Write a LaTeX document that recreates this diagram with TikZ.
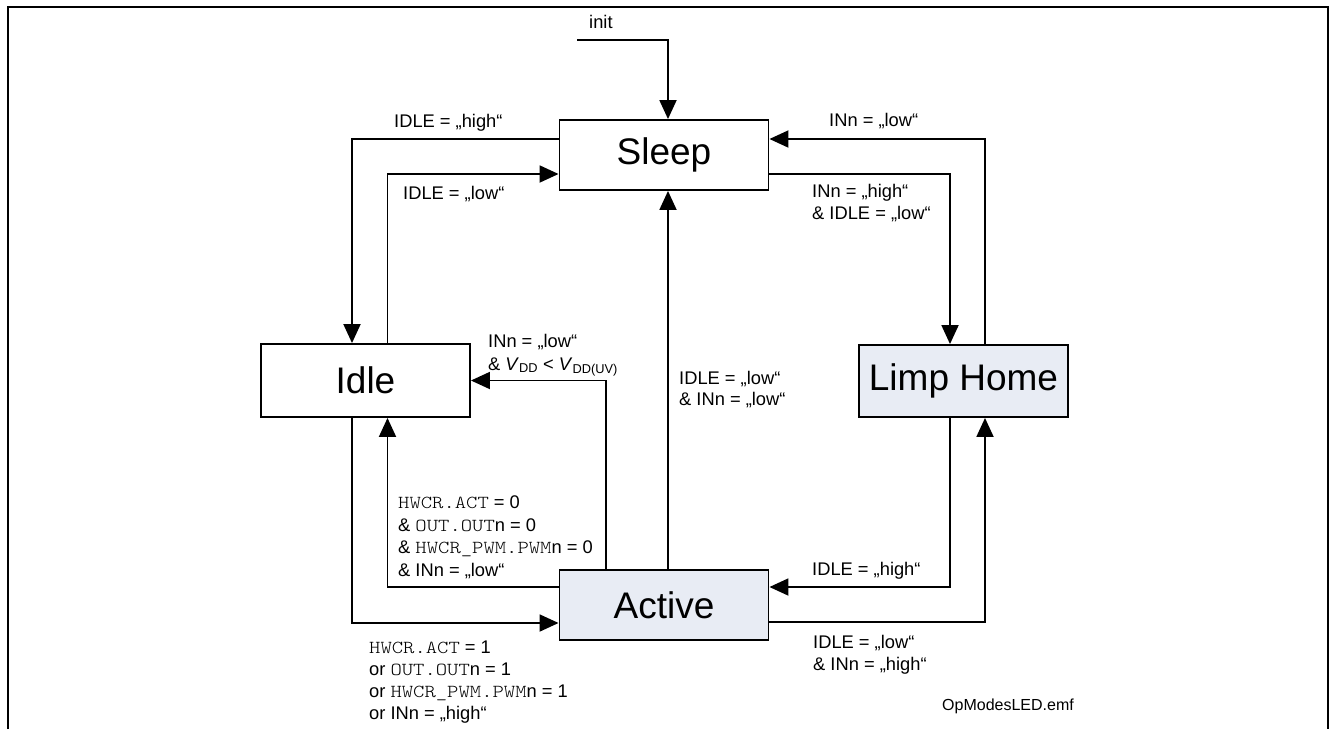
\documentclass[tikz,border=0pt]{standalone}
\usepackage{fontspec}
\setmainfont{Liberation Sans}
\setmonofont{Latin Modern Mono Light}[FakeStretch=1.18]
\usetikzlibrary{arrows.meta}
\definecolor{boxfill}{HTML}{E8ECF4}
\tikzset{
  state/.style={draw, line width=1.9pt, minimum width=209pt, minimum height=70pt, inner sep=0pt, font=\fontsize{37}{44}\selectfont},
  arr/.style={line width=1.9pt, -{Triangle[length=19pt,width=17pt]}},
  lbl/.style={anchor=base west, inner sep=0pt, font=\fontsize{18.3}{22}\selectfont},
}
\begin{document}
\begin{tikzpicture}[x=1pt,y=-1pt]
\useasboundingbox (0,0) rectangle (1333,729);
\draw[line width=1.9pt] (8,729) -- (8,7) -- (1328,7) -- (1328,729);

\node[state] (sleep) at (664,155) {Sleep};
\node[state, minimum height=73pt] (idle) at (365.5,380.5) {Idle};
\node[state, fill=boxfill, minimum height=72pt] (limp) at (963.5,381) {Limp Home};
\node[state, fill=boxfill] (active) at (664,605) {Active};

\coordinate (init) at (577,40);
\node[lbl] (initlbl) at (589,28) {init};
\draw[arr] (init) -| ([xshift=4pt]sleep.north);

\draw[arr] ([yshift=16pt]sleep.west) -| ([xshift=-13.5pt]idle.north);
\draw[arr] ([xshift=22pt]idle.north) |- ([yshift=-19pt]sleep.west);
\draw[arr] ([xshift=21.5pt]limp.north) |- ([yshift=16pt]sleep.east);
\draw[arr] ([yshift=-19pt]sleep.east) -| ([xshift=-13.5pt]limp.north);
\draw[arr] ([xshift=-58pt]active.north) |- (idle.east);
\draw[arr] ([xshift=4pt]active.north) -- ([xshift=4pt]sleep.south);
\draw[arr] ([yshift=18pt]active.west) -| ([xshift=22pt]idle.south);
\draw[arr] ([xshift=-13.5pt]idle.south) |- ([yshift=-18pt]active.west);
\draw[arr] ([xshift=-13.5pt]limp.south) |- ([yshift=18pt]active.east);
\draw[arr] ([yshift=-17pt]active.east) -| ([xshift=21.5pt]limp.south);

\node[lbl] (t1) at (394,127) {IDLE = „high“};
\node[lbl] (t2) at (403,199) {IDLE = „low“};
\node[lbl] (t3) at (829,126) {INn = „low“};
\node[lbl] (t4a) at (812,197) {INn = „high“};
\node[lbl] (t4b) at (812,219) {\& IDLE = „low“};
\node[lbl] (t5a) at (488,347) {INn = „low“};
\node[lbl] (t5b) at (488,370) {\& \textit{V}\textsubscript{DD} < \textit{V}\textsubscript{DD(UV)}};
\node[lbl] (t6a) at (679,384) {IDLE = „low“};
\node[lbl] (t6b) at (679,405) {\& INn = „low“};
\node[lbl] (t7a) at (398,508) {\texttt{HWCR.ACT} = 0};
\node[lbl] (t7b) at (398,531) {\& \texttt{OUT.OUT}n = 0};
\node[lbl] (t7c) at (398,553) {\& \texttt{HWCR\_PWM.PWM}n = 0};
\node[lbl] (t7d) at (398,576) {\& INn = „low“};
\node[lbl] (t8a) at (369,653) {\texttt{HWCR.ACT} = 1};
\node[lbl] (t8b) at (369,675) {or \texttt{OUT.OUT}n = 1};
\node[lbl] (t8c) at (369,697) {or \texttt{HWCR\_PWM.PWM}n = 1};
\node[lbl] (t8d) at (369,719) {or INn = „high“};
\node[lbl] (t9) at (812,575) {IDLE = „high“};
\node[lbl] (t10a) at (813,648) {IDLE = „low“};
\node[lbl] (t10b) at (813,670) {\& INn = „high“};
\node[lbl, font=\fontsize{16}{19}\selectfont] (t11) at (942,710) {OpModesLED.emf};
\end{tikzpicture}
\end{document}
